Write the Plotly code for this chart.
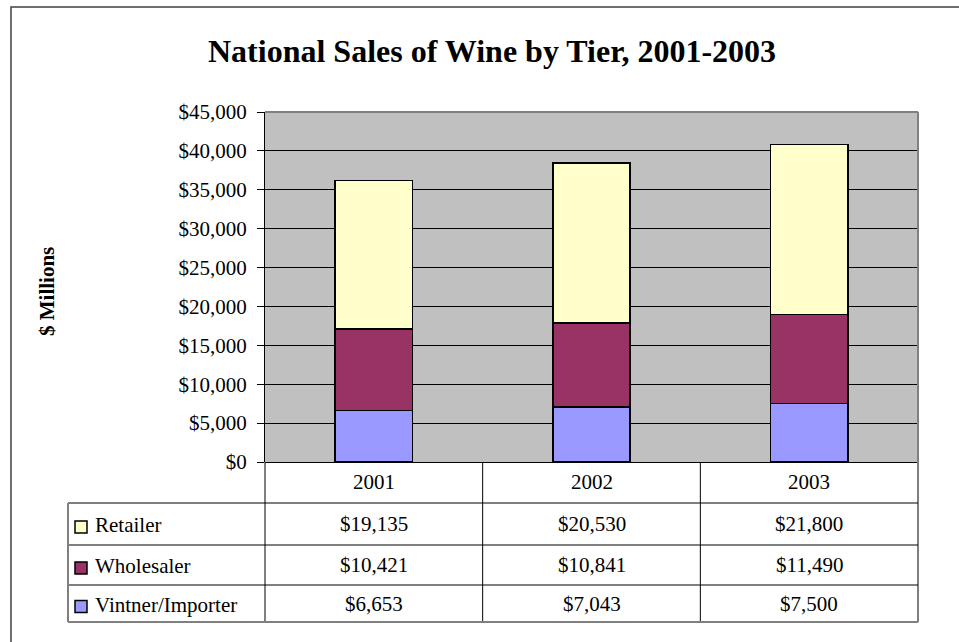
import plotly.graph_objects as go

# ---- data -------------------------------------------------------------
years = ["2001", "2002", "2003"]
series_names = ["Retailer", "Wholesaler", "Vintner/Importer"]
retailer = [19135, 20530, 21800]
wholesaler = [10421, 10841, 11490]
vintner = [6653, 7043, 7500]
series_colors = ["#FFFFCC", "#993366", "#9999FF"]

title_text = "National Sales of Wine by Tier, 2001-2003"
y_title = "$ Millions"

W, H = 959, 642
FONT = "Liberation Serif, Times New Roman, serif"


def px(x):
    return x / W


def py(y):
    return 1 - y / H


# plot-area and table geometry (pixels)
PL, PR, PT, PB = 265, 918, 112, 462
TABLE_LEFT = 68
ROW_EDGES = [462, 503, 545, 585, 622]

fig = go.Figure()

# stacked bars, bottom tier first
for name, vals, col in [
    (series_names[2], vintner, series_colors[2]),
    (series_names[1], wholesaler, series_colors[1]),
    (series_names[0], retailer, series_colors[0]),
]:
    fig.add_trace(go.Bar(
        x=years, y=vals, name=name,
        marker=dict(color=col, line=dict(color="black", width=1.5)),
        showlegend=False,
    ))

fig.update_layout(
    width=W, height=H,
    margin=dict(l=0, r=0, t=0, b=0, pad=0, autoexpand=False),
    paper_bgcolor="white",
    plot_bgcolor="#C0C0C0",
    barmode="stack",
    bargap=0.645,
    font=dict(family=FONT, color="black"),
    xaxis=dict(
        domain=[px(PL), px(PR)],
        showticklabels=False, ticks="", showgrid=False,
        showline=False, zeroline=False, fixedrange=True,
        automargin=False,
    ),
    yaxis=dict(
        domain=[py(PB), py(PT)],
        range=[0, 45000], dtick=5000,
        tickprefix="$", tickformat=",d",
        ticks="outside", ticklen=7, tickcolor="black",
        ticklabelstandoff=6,
        tickfont=dict(family=FONT, size=21, color="black"),
        showgrid=True, gridcolor="#000000", gridwidth=1,
        showline=True, linecolor="black", linewidth=1,
        zeroline=True, zerolinecolor="black", zerolinewidth=1,
        fixedrange=True, automargin=False,
    ),
)

shapes = []
# outer chart frame (right/bottom fall off the canvas)
shapes.append(dict(type="rect", xref="paper", yref="paper",
                   x0=px(11), x1=px(975), y0=py(7), y1=py(660),
                   line=dict(color="#404040", width=1.5)))
# plot-area frame, top and right
shapes.append(dict(type="line", xref="paper", yref="paper",
                   x0=px(PL), x1=px(PR), y0=py(PT), y1=py(PT),
                   line=dict(color="#808080", width=2)))
shapes.append(dict(type="line", xref="paper", yref="paper",
                   x0=px(PR), x1=px(PR), y0=py(PT), y1=py(ROW_EDGES[-1]),
                   line=dict(color="#808080", width=2)))

# data table lines
col_edges = [PL + (PR - PL) * i / len(years) for i in range(len(years) + 1)]
for i, xe in enumerate(col_edges[:-1]):
    shapes.append(dict(type="line", xref="paper", yref="paper",
                       x0=px(xe), x1=px(xe), y0=py(PB), y1=py(ROW_EDGES[-1]),
                       line=dict(color="black", width=1)))
for ye in ROW_EDGES[1:-1]:
    shapes.append(dict(type="line", xref="paper", yref="paper",
                       x0=px(TABLE_LEFT), x1=px(PR), y0=py(ye), y1=py(ye),
                       line=dict(color="black", width=1)))
shapes.append(dict(type="line", xref="paper", yref="paper",
                   x0=px(TABLE_LEFT), x1=px(PR),
                   y0=py(ROW_EDGES[-1]), y1=py(ROW_EDGES[-1]),
                   line=dict(color="#808080", width=2)))
shapes.append(dict(type="line", xref="paper", yref="paper",
                   x0=px(TABLE_LEFT), x1=px(TABLE_LEFT),
                   y0=py(ROW_EDGES[1]), y1=py(ROW_EDGES[-1]),
                   line=dict(color="#808080", width=2)))

annotations = []
annotations.append(dict(text="<b>" + title_text + "</b>", xref="paper", yref="paper",
                        x=px(492), y=py(51), showarrow=False,
                        xanchor="center", yanchor="middle",
                        font=dict(family=FONT, size=32, color="black")))
annotations.append(dict(text="<b>" + y_title + "</b>", xref="paper", yref="paper",
                        x=px(47), y=py(292), showarrow=False, textangle=-90,
                        xanchor="center", yanchor="middle",
                        font=dict(family=FONT, size=21, color="black")))

# header row: years
for i, yr in enumerate(years):
    cx = (col_edges[i] + col_edges[i + 1]) / 2
    annotations.append(dict(text=yr, xref="paper", yref="paper",
                            x=px(cx), y=py((ROW_EDGES[0] + ROW_EDGES[1]) / 2),
                            showarrow=False, xanchor="center", yanchor="middle",
                            font=dict(family=FONT, size=21, color="black")))

# body rows: legend key + values
rows = [(series_names[0], retailer, series_colors[0]),
        (series_names[1], wholesaler, series_colors[1]),
        (series_names[2], vintner, series_colors[2])]
for r, (name, vals, col) in enumerate(rows):
    y0, y1 = ROW_EDGES[r + 1], ROW_EDGES[r + 2]
    cy = (y0 + y1) / 2 + 1
    shapes.append(dict(type="rect", xref="paper", yref="paper",
                       x0=px(75), x1=px(87), y0=py(cy - 4), y1=py(cy + 8),
                       fillcolor=col, line=dict(color="black", width=1.5)))
    annotations.append(dict(text=name, xref="paper", yref="paper",
                            x=px(93), y=py(cy), showarrow=False,
                            xanchor="left", yanchor="middle",
                            font=dict(family=FONT, size=21, color="black")))
    for i, v in enumerate(vals):
        cx = (col_edges[i] + col_edges[i + 1]) / 2
        annotations.append(dict(text="${:,}".format(v), xref="paper", yref="paper",
                                x=px(cx), y=py(cy - 1), showarrow=False,
                                xanchor="center", yanchor="middle",
                                font=dict(family=FONT, size=21, color="black")))

fig.update_layout(shapes=shapes, annotations=annotations)
fig.write_html("out.html")
